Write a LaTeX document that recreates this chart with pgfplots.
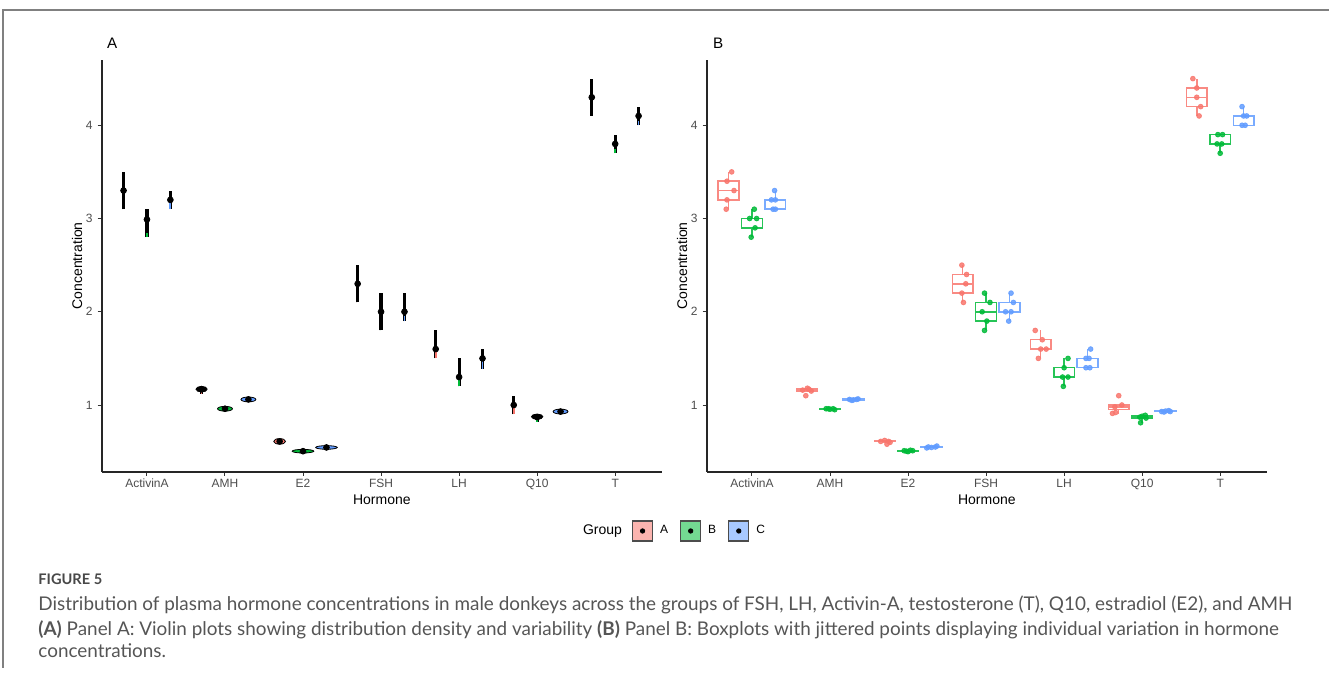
\documentclass[border=0pt]{standalone}
\usepackage{pgfplots}
\pgfplotsset{compat=1.18}
\usepgfplotslibrary{statistics}
\usepackage{fontspec}
\setmainfont{Liberation Sans}
\newfontfamily\capfont{Lato}
\definecolor{gA}{HTML}{F8766D}
\definecolor{gB}{HTML}{00BA38}
\definecolor{gC}{HTML}{619CFF}
\definecolor{ticktxt}{HTML}{4D4D4D}
\definecolor{captxt}{HTML}{555555}

% panel A helpers
\newcommand{\vio}[4]{%
  \addplot[black, line width=1.6pt, forget plot] coordinates {(#1,#2) (#1,#3)};
  \addplot[#4, line width=0.9pt, forget plot] coordinates {(#1,#2) (#1,#3)};}
\newcommand{\rng}[3]{\addplot[black, line width=1.3pt, forget plot] coordinates {(#1,#2) (#1,#3)};}
\newcommand{\elp}[5]{\addplot[only marks, forget plot, mark=*, mark size=#5, mark options={xscale=#4, fill=#3, draw=black, line width=0.4pt}] coordinates {(#1,#2)};}
% panel B helper
\newcommand{\bx}[7]{\addplot[#7!85!white, line width=0.75pt, mark=none, forget plot, boxplot/draw direction=y, boxplot prepared={draw position=#1, lower whisker=#2, lower quartile=#3, median=#4, upper quartile=#5, upper whisker=#6, box extend=0.265, whisker extend=0}] coordinates {};}

\pgfplotsset{
  hormone/.style={
    scale only axis, width=280.15pt, height=205.85pt,
    xmin=0.42, xmax=7.6, ymin=0.285, ymax=4.70,
    axis x line*=bottom, axis y line*=left,
    axis line style={line width=0.9pt, black!85},
    tick style={black!80, line width=0.5pt},
    major tick length=2pt, tick align=outside,
    xtick={1,2,3,4,5,6,7},
    xticklabels={ActivinA,AMH,E2,FSH,LH,Q10,T},
    ytick={1,2,3,4},
    tick label style={font=\fontsize{6}{7}\selectfont, text=ticktxt},
    xticklabel style={yshift=2pt},
    yticklabel style={xshift=1pt},
    /pgf/number format/assume math mode=true,
    xlabel={Hormone}, ylabel={Concentration},
    label style={font=\fontsize{7}{8}\selectfont},
    xlabel style={yshift=4.3pt},
    ylabel style={yshift=-5pt},
    clip=false,
  }
}

\begin{document}
\begin{tikzpicture}
\useasboundingbox (0pt,0pt) rectangle (664.5pt,337.5pt);
% frame
\draw[black!50, line width=0.7pt] (1.5pt,3.5pt) -- (1.5pt,332.5pt) -- (664.5pt,332.5pt);

% ---------------- Panel A ----------------
\begin{axis}[hormone, at={(50.85pt,101.65pt)}, anchor=south west]
% group A
\vio{0.7}{3.1}{3.5}{gA} \rng{0.7}{3.1}{3.5}
\vio{1.7}{1.12}{1.18}{gA}
\vio{3.7}{2.1}{2.5}{gA} \rng{3.7}{2.1}{2.5}
\vio{4.7}{1.5}{1.8}{gA} \rng{4.7}{1.6}{1.8}
\vio{5.7}{0.9}{1.08}{gA} \rng{5.7}{0.97}{1.1}
\vio{6.7}{4.1}{4.5}{gA} \rng{6.7}{4.1}{4.5}
% group B
\vio{1}{2.8}{3.1}{gB} \rng{1}{2.85}{3.1}
\vio{4}{1.8}{2.2}{gB} \rng{4}{1.8}{2.2}
\vio{5}{1.2}{1.5}{gB} \rng{5}{1.3}{1.5}
\vio{6}{0.82}{0.89}{gB}
\vio{7}{3.7}{3.9}{gB} \rng{7}{3.75}{3.9}
% group C
\vio{1.3}{3.1}{3.3}{gC} \rng{1.3}{3.2}{3.3}
\vio{4.3}{1.9}{2.2}{gC} \rng{4.3}{1.95}{2.2}
\vio{5.3}{1.39}{1.6}{gC} \rng{5.3}{1.5}{1.6}
\vio{7.3}{4.0}{4.2}{gC} \rng{7.3}{4.05}{4.2}
% flat violins
\elp{1.7}{1.17}{black}{2}{1.4}
\elp{2.7}{0.61}{gA}{2.1}{1.4}
\elp{2}{0.96}{gB}{3.1}{1.2}
\elp{3}{0.505}{gB}{6}{0.9}
\elp{6}{0.875}{black}{2.2}{1.3}
\elp{2.3}{1.06}{gC}{3.1}{1.2}
\elp{3.3}{0.545}{gC}{6}{0.9}
\elp{6.3}{0.93}{gC}{3.1}{1.2}
% means
\addplot[only marks, forget plot, mark=*, mark size=1.45pt, black] coordinates {
(0.7,3.30) (1.7,1.17) (2.7,0.61) (3.7,2.30) (4.7,1.60) (5.7,1.00) (6.7,4.30)
(1,2.99) (2,0.96) (3,0.505) (4,2.00) (5,1.30) (6,0.87) (7,3.80)
(1.3,3.20) (2.3,1.06) (3.3,0.545) (4.3,2.00) (5.3,1.50) (6.3,0.93) (7.3,4.10)};
\end{axis}
\node[anchor=west, font=\fontsize{7.6}{9}\selectfont] at (50pt,316pt) {A};

% ---------------- Panel B ----------------
\begin{axis}[hormone, at={(353.35pt,101.65pt)}, anchor=south west,
  legend style={at={(-0.134,-0.144)}, anchor=west, draw=none, fill=none,
    inner sep=0pt, font=\fontsize{6}{7}\selectfont, legend columns=3,
    /tikz/every even column/.append style={column sep=4pt},
    /tikz/every odd column/.append style={column sep=1.5pt}},
  legend cell align=left]
% group A boxes
\bx{0.7}{3.1}{3.2}{3.3}{3.4}{3.5}{gA}
\bx{1.7}{1.15}{1.15}{1.16}{1.17}{1.18}{gA}
\bx{2.7}{0.60}{0.61}{0.61}{0.62}{0.62}{gA}
\bx{3.7}{2.1}{2.2}{2.3}{2.4}{2.5}{gA}
\bx{4.7}{1.5}{1.6}{1.6}{1.7}{1.8}{gA}
\bx{5.7}{0.90}{0.95}{0.98}{1.0}{1.0}{gA}
\bx{6.7}{4.1}{4.2}{4.3}{4.4}{4.5}{gA}
% group B boxes
\bx{1}{2.8}{2.9}{3.0}{3.0}{3.1}{gB}
\bx{2}{0.95}{0.955}{0.96}{0.96}{0.965}{gB}
\bx{3}{0.50}{0.505}{0.51}{0.51}{0.515}{gB}
\bx{4}{1.8}{1.9}{2.0}{2.1}{2.2}{gB}
\bx{5}{1.2}{1.3}{1.3}{1.4}{1.5}{gB}
\bx{6}{0.81}{0.86}{0.87}{0.88}{0.89}{gB}
\bx{7}{3.7}{3.8}{3.8}{3.9}{3.9}{gB}
% group C boxes
\bx{1.3}{3.1}{3.1}{3.2}{3.2}{3.3}{gC}
\bx{2.3}{1.05}{1.055}{1.06}{1.065}{1.065}{gC}
\bx{3.3}{0.54}{0.545}{0.55}{0.555}{0.56}{gC}
\bx{4.3}{1.9}{2.0}{2.0}{2.1}{2.2}{gC}
\bx{5.3}{1.4}{1.4}{1.5}{1.5}{1.6}{gC}
\bx{6.3}{0.925}{0.93}{0.93}{0.94}{0.94}{gC}
\bx{7.3}{4.0}{4.0}{4.1}{4.1}{4.2}{gC}
% jittered points
\addplot[only marks, forget plot, mark=*, mark size=1.2pt, gA, opacity=0.85] coordinates {
(0.74,3.5) (0.68,3.4) (0.77,3.3) (0.68,3.2) (0.67,3.1)
(1.71,1.18) (1.65,1.16) (1.73,1.17) (1.76,1.15) (1.69,1.10)
(2.70,0.62) (2.65,0.61) (2.75,0.61) (2.77,0.60) (2.73,0.58)
(3.69,2.5) (3.75,2.4) (3.74,2.3) (3.69,2.2) (3.71,2.1)
(4.63,1.8) (4.72,1.7) (4.77,1.6) (4.70,1.6) (4.67,1.5)
(5.70,1.1) (5.74,1.0) (5.65,0.98) (5.66,0.92) (5.62,0.91)
(6.65,4.5) (6.70,4.4) (6.70,4.3) (6.75,4.2) (6.73,4.1)};
\addplot[only marks, forget plot, mark=*, mark size=1.2pt, gB, opacity=0.85] coordinates {
(1.03,3.1) (0.97,3.0) (1.06,3.0) (1.04,2.9) (0.99,2.8)
(1.95,0.96) (2.00,0.955) (2.04,0.96) (2.06,0.95) (1.98,0.96)
(2.95,0.51) (3.00,0.50) (3.03,0.515) (3.06,0.51) (2.98,0.505)
(3.98,2.2) (4.05,2.1) (3.95,2.0) (4.01,1.9) (3.98,1.8)
(5.05,1.5) (5.00,1.4) (5.05,1.3) (4.98,1.3) (4.99,1.2)
(6.04,0.89) (6.00,0.88) (5.97,0.87) (6.05,0.86) (5.98,0.81)
(6.97,3.9) (7.03,3.9) (6.96,3.8) (7.02,3.8) (7.00,3.7)};
\addplot[only marks, forget plot, mark=*, mark size=1.2pt, gC, opacity=0.85] coordinates {
(1.29,3.3) (1.30,3.2) (1.25,3.2) (1.27,3.1) (1.30,3.1)
(2.25,1.06) (2.30,1.055) (2.34,1.06) (2.36,1.065) (2.28,1.05)
(3.26,0.55) (3.30,0.545) (3.35,0.55) (3.37,0.56) (3.24,0.54)
(4.32,2.2) (4.35,2.1) (4.25,2.0) (4.32,2.0) (4.29,1.9)
(5.34,1.6) (5.28,1.5) (5.32,1.5) (5.28,1.4) (5.33,1.4)
(6.25,0.93) (6.30,0.935) (6.34,0.94) (6.36,0.93) (6.28,0.925)
(7.28,4.2) (7.30,4.1) (7.34,4.1) (7.28,4.0) (7.32,4.0)};
% legend
\addlegendimage{legend image code/.code={\draw[fill=gA!55!white, draw=black!70, line width=0.55pt] (0pt,-5pt) rectangle (10pt,5pt); \fill[black] (5pt,0pt) circle (1.1pt);}}
\addlegendentry{A}
\addlegendimage{legend image code/.code={\draw[fill=gB!55!white, draw=black!70, line width=0.55pt] (0pt,-5pt) rectangle (10pt,5pt); \fill[black] (5pt,0pt) circle (1.1pt);}}
\addlegendentry{B}
\addlegendimage{legend image code/.code={\draw[fill=gC!55!white, draw=black!70, line width=0.55pt] (0pt,-5pt) rectangle (10pt,5pt); \fill[black] (5pt,0pt) circle (1.1pt);}}
\addlegendentry{C}
\end{axis}
\node[anchor=west, font=\fontsize{7.6}{9}\selectfont] at (353pt,316pt) {B};
\node[anchor=east, font=\fontsize{7}{8}\selectfont] at (314.5pt,72pt) {Group};

% caption
\node[anchor=base west, inner sep=0pt, font=\capfont\bfseries\fontsize{7.3}{9}\selectfont, text=captxt!85!black] at (19pt,45pt) {FIGURE 5};
\node[anchor=base west, inner sep=0pt, font=\capfont\fontsize{9.45}{12.5}\selectfont, text=captxt] at (19pt,32pt) {Distribution of plasma hormone concentrations in male donkeys across the groups of FSH, LH, Activin-A, testosterone (T), Q10, estradiol (E2), and AMH};
\node[anchor=base west, inner sep=0pt, font=\capfont\fontsize{9.45}{12.5}\selectfont, text=captxt] at (19pt,19.5pt) {\textbf{(A)} Panel A: Violin plots showing distribution density and variability \textbf{(B)} Panel B: Boxplots with jittered points displaying individual variation in hormone};
\node[anchor=base west, inner sep=0pt, font=\capfont\fontsize{9.45}{12.5}\selectfont, text=captxt] at (19pt,8.5pt) {concentrations.};
\end{tikzpicture}
\end{document}
